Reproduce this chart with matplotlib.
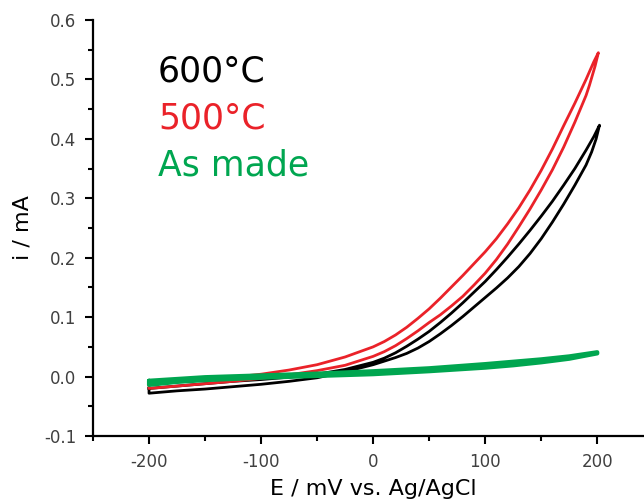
import matplotlib
matplotlib.use("Agg")
import matplotlib.pyplot as plt
from matplotlib.ticker import MultipleLocator, FormatStrFormatter

plt.rcParams['font.family'] = ['DejaVu Sans']
plt.rcParams['axes.unicode_minus'] = False

# cyclic voltammograms: anodic sweep (upper branch) and return sweep (lower branch)
E_600_fwd = [-200, -175, -150, -125, -100, -75, -50, -25, 0, 10, 20, 30, 40, 50, 60, 70, 80, 90,
             100, 110, 120, 130, 140, 150, 160, 170, 180, 190, 197, 202]
i_600_fwd = [-0.020, -0.016, -0.012, -0.008, -0.005, -0.001, 0.004, 0.012, 0.024, 0.031, 0.040,
             0.051, 0.063, 0.076, 0.091, 0.107, 0.124, 0.142, 0.160, 0.180, 0.201, 0.223, 0.246,
             0.270, 0.295, 0.322, 0.350, 0.381, 0.404, 0.423]
E_600_rev = [202, 199, 195, 190, 180, 170, 160, 150, 140, 130, 120, 110, 100, 90, 80, 70, 60, 50,
             40, 30, 20, 10, 0, -25, -50, -75, -100, -125, -150, -175, -200]
i_600_rev = [0.423, 0.400, 0.378, 0.356, 0.322, 0.290, 0.260, 0.232, 0.207, 0.185, 0.166, 0.149,
             0.133, 0.117, 0.101, 0.086, 0.072, 0.059, 0.048, 0.039, 0.032, 0.026, 0.020, 0.008,
             -0.002, -0.008, -0.013, -0.017, -0.021, -0.024, -0.028]

E_500_fwd = [-200, -175, -150, -125, -100, -75, -50, -25, 0, 10, 20, 30, 40, 50, 60, 70, 80, 90,
             100, 110, 120, 130, 140, 150, 160, 170, 180, 190, 197, 201]
i_500_fwd = [-0.013, -0.009, -0.005, -0.001, 0.004, 0.011, 0.020, 0.033, 0.050, 0.059, 0.070,
             0.083, 0.098, 0.114, 0.132, 0.151, 0.170, 0.190, 0.210, 0.232, 0.257, 0.284, 0.314,
             0.347, 0.383, 0.422, 0.460, 0.500, 0.530, 0.545]
E_500_rev = [201, 198, 193, 190, 180, 170, 160, 150, 140, 130, 120, 110, 100, 90, 80, 70, 60, 50,
             40, 30, 20, 10, 0, -25, -50, -75, -100, -125, -150, -175, -200]
i_500_rev = [0.545, 0.522, 0.490, 0.473, 0.428, 0.386, 0.348, 0.314, 0.282, 0.252, 0.223, 0.197,
             0.174, 0.154, 0.135, 0.119, 0.104, 0.091, 0.077, 0.064, 0.052, 0.042, 0.034, 0.019,
             0.010, 0.003, -0.003, -0.008, -0.012, -0.016, -0.020]

E_asm_fwd = [-200, -175, -150, -100, -50, 0, 50, 100, 125, 150, 175, 200]
i_asm_fwd = [-0.007, -0.004, -0.001, 0.002, 0.005, 0.009, 0.014, 0.021, 0.025, 0.029, 0.034, 0.041]
E_asm_rev = [200, 175, 150, 125, 100, 50, 0, -50, -100, -150, -175, -200]
i_asm_rev = [0.039, 0.030, 0.024, 0.019, 0.015, 0.009, 0.004, 0.001, -0.002, -0.006, -0.009, -0.014]

labels = ["600°C", "500°C", "As made"]
colors = ["#000000", "#ea2229", "#00a650"]

fig = plt.figure(figsize=(6.44, 5.03), dpi=100)
ax = fig.add_axes([0.1444, 0.1332, 0.870, 0.827])

ax.plot(E_asm_fwd + E_asm_rev + E_asm_fwd[:1], i_asm_fwd + i_asm_rev + i_asm_fwd[:1],
        color=colors[2], lw=3.0, solid_capstyle='round', solid_joinstyle='round', zorder=3)
ax.plot(E_600_fwd + E_600_rev + E_600_fwd[:1], i_600_fwd + i_600_rev + i_600_fwd[:1],
        color=colors[0], lw=2.0, solid_joinstyle='round', zorder=2)
ax.plot(E_500_fwd + E_500_rev + E_500_fwd[:1], i_500_fwd + i_500_rev + i_500_fwd[:1],
        color=colors[1], lw=2.0, solid_joinstyle='round', zorder=2)

ax.set_xlim(-250, 250)
ax.set_ylim(-0.1, 0.6)
ax.xaxis.set_major_locator(MultipleLocator(100))
ax.xaxis.set_minor_locator(MultipleLocator(50))
ax.yaxis.set_major_locator(MultipleLocator(0.1))
ax.yaxis.set_minor_locator(MultipleLocator(0.05))
ax.yaxis.set_major_formatter(FormatStrFormatter('%.1f'))

for side in ['top', 'right']:
    ax.spines[side].set_visible(False)
for side in ['left', 'bottom']:
    ax.spines[side].set_linewidth(1.6)
ax.tick_params(which='major', direction='out', length=6, width=1.5,
               labelsize=12, labelcolor='#404040', pad=6)
ax.tick_params(which='minor', direction='out', length=3.5, width=1.5)

ax.set_xlabel("E / mV vs. Ag/AgCl", fontsize=16, labelpad=6)
ax.set_ylabel("i / mA", fontsize=16, labelpad=8)

for k, (lab, c) in enumerate(zip(labels, colors)):
    ax.text(0.116, 0.852 - k * 0.113, lab, color=c, fontsize=25,
            transform=ax.transAxes, ha='left', va='baseline')

fig.savefig("out.png", dpi=100)
